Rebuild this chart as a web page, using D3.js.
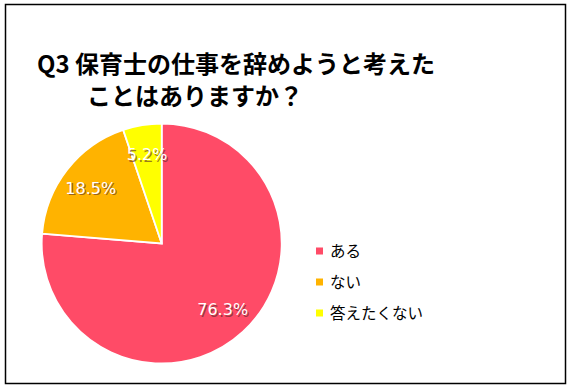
<!DOCTYPE html>
<html>
<head>
<meta charset="utf-8">
<script src="https://cdn.jsdelivr.net/npm/d3@7"></script>
<style>
  body { margin: 0; background: #fff; }
  svg { display: block; }
</style>
</head>
<body>
<svg class="chart" width="572" height="390"></svg>
<script>
var categories = ['ある', 'ない', '答えたくない'];
var values = [76.3, 18.5, 5.2];
var labels = ['76.3%', '18.5%', '5.2%'];
var titleLines = ['Q3 保育士の仕事を辞めようと考えた', 'ことはありますか？'];

var colors = d3.scaleOrdinal()
    .domain(categories)
    .range(['#ff4b67', '#ffb300', '#ffff00']);

var cx = 161.7, cy = 243.5, radius = 120;

const svg = d3.select('.chart');

// outer frame
svg.append('rect')
    .attr('x', 5.5).attr('y', 4.5)
    .attr('width', 560).attr('height', 379)
    .attr('fill', '#fff')
    .attr('stroke', '#000')
    .attr('stroke-width', 1.5);

// title
svg.append('g')
    .attr('class', 'title')
    .selectAll('text')
    .data(titleLines)
    .join('text')
    .attr('x', (d, i) => i == 0 ? 37 : 87)
    .attr('y', (d, i) => 73 + 32 * i)
    .attr('font-family', '"Noto Sans CJK JP", sans-serif')
    .attr('font-weight', 'bold')
    .attr('font-size', 24)
    .attr('fill', '#000')
    .text(d => d);

var pie = d3.pie().sort(null).value(d => d);
var arcs = pie(values);
var arc = d3.arc().innerRadius(0).outerRadius(radius);
var labelArc = d3.arc().innerRadius(90).outerRadius(90);

const pieG = svg.append('g')
    .attr('transform', 'translate(' + cx + ',' + cy + ')');

pieG.selectAll('path')
    .data(arcs)
    .join('path')
    .attr('d', arc)
    .attr('fill', (d, i) => colors(categories[i]))
    .attr('stroke', '#fff')
    .attr('stroke-width', 1.8);

//labels with a little shadow under them
const lab = pieG.append('g')
    .attr('font-family', '"DejaVu Sans", Verdana, sans-serif')
    .attr('font-size', 16)
    .attr('text-anchor', 'middle');

lab.selectAll('text.shadow')
    .data(arcs)
    .join('text')
    .attr('class', 'shadow')
    .attr('x', d => labelArc.centroid(d)[0] + 1.3)
    .attr('y', d => labelArc.centroid(d)[1] + 1.3)
    .attr('dy', '0.35em')
    .attr('fill', '#5a2a2a')
    .attr('opacity', 0.6)
    .text((d, i) => labels[i]);

lab.selectAll('text.lbl')
    .data(arcs)
    .join('text')
    .attr('class', 'lbl')
    .attr('x', d => labelArc.centroid(d)[0])
    .attr('y', d => labelArc.centroid(d)[1])
    .attr('dy', '0.35em')
    .attr('fill', '#fff')
    .text((d, i) => labels[i]);

// legend
const legend = svg.append('g')
    .selectAll('g')
    .data(categories)
    .join('g')
    .attr('transform', (d, i) => 'translate(316,' + (251 + 31 * i) + ')');

legend.append('rect')
    .attr('x', 0).attr('y', -3.5)
    .attr('width', 7).attr('height', 7)
    .attr('fill', d => colors(d));

legend.append('text')
    .attr('x', 14)
    .attr('dy', '0.36em')
    .attr('font-family', '"Noto Sans CJK JP", sans-serif')
    .attr('font-size', 15.5)
    .attr('fill', '#000')
    .text(d => d);
</script>
</body>
</html>
